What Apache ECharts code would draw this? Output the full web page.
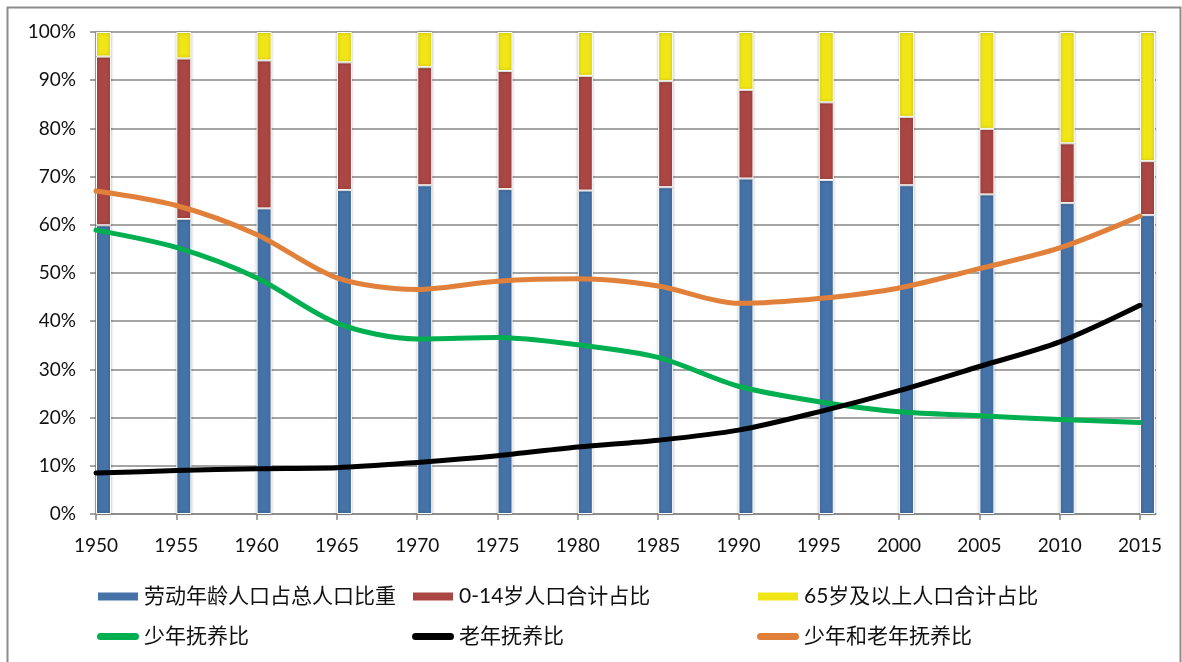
<!DOCTYPE html>
<html>
<head>
<meta charset="utf-8">
<script src="https://cdn.jsdelivr.net/npm/echarts@6/dist/echarts.min.js"></script>
<style>
  html, body { margin: 0; padding: 0; background: #fff; }
  #chart { width: 1182px; height: 662px; }
</style>
</head>
<body>
<div id="chart"></div>
<script>
// years on the x axis
const years = ["1950", "1955", "1960", "1965", "1970", "1975", "1980", "1985", "1990", "1995", "2000", "2005", "2010", "2015"];
// stacked shares (%)
const workShare = [59.9, 61.2, 63.4, 67.2, 68.2, 67.4, 67.1, 67.8, 69.6, 69.3, 68.2, 66.3, 64.5, 62.0];
const childShare = [35.0, 33.3, 30.7, 26.5, 24.5, 24.5, 23.8, 22.0, 18.4, 16.1, 14.2, 13.6, 12.4, 11.2];
const oldShare = [5.1, 5.5, 5.9, 6.3, 7.3, 8.1, 9.1, 10.2, 12.0, 14.6, 17.6, 20.1, 23.1, 26.8];
// dependency ratios (%)
const childRatio = [58.9, 55.3, 49.0, 39.6, 36.3, 36.6, 35.1, 32.5, 26.5, 23.3, 21.2, 20.4, 19.6, 19.0];
const oldRatio = [8.5, 9.0, 9.4, 9.6, 10.7, 12.1, 13.9, 15.3, 17.4, 21.2, 25.6, 30.6, 35.7, 43.3];
const totalRatio = [67.0, 64.0, 58.0, 49.0, 46.6, 48.3, 48.8, 47.3, 43.7, 44.7, 46.9, 50.9, 55.2, 61.8];

const names = ["劳动年龄人口占总人口比重", "0-14岁人口合计占比", "65岁及以上人口合计占比",
  "少年抚养比", "老年抚养比", "少年和老年抚养比"];

const axisGray = "#878787";
const lineIcon = "path://M3.5,0H38.5A3.5,3.5,0,0,1,38.5,7H3.5A3.5,3.5,0,0,1,3.5,0Z";

const barStyle = c => ({
  color: c,
  borderColor: "#fff",
  borderWidth: 1,
  shadowBlur: 3,
  shadowColor: "rgba(0,0,0,0.3)"
});

const lineSeries = (name, data, color) => ({
  name: name,
  type: "line",
  xAxisIndex: 1,
  yAxisIndex: 1,
  data: data,
  smooth: 0.3,
  showSymbol: false,
  symbol: "none",
  z: 5,
  itemStyle: { color: color },
  lineStyle: { color: color, width: 5, cap: "round", join: "round" }
});

const barSeries = (name, data, color) => ({
  name: name,
  type: "bar",
  stack: "share",
  xAxisIndex: 1,
  yAxisIndex: 1,
  barWidth: 15,
  barGap: "0%",
  data: data,
  itemStyle: barStyle(color)
});

const legendText = { fontSize: 21, color: "#111", fontFamily: "Lato, 'Noto Sans CJK SC', sans-serif" };
const legendCol = (left, data) => ({
  left: left,
  top: 581,
  orient: "vertical",
  itemGap: 19,
  itemWidth: 42,
  itemHeight: 10,
  textStyle: legendText,
  data: data
});

const chart = echarts.init(document.getElementById("chart"));
chart.setOption({
  animation: false,
  backgroundColor: "#fff",
  graphic: [{
    type: "rect",
    shape: { x: 7.5, y: 7.5, width: 1173, height: 700 },
    style: { fill: "none", stroke: "#8c8c8c", lineWidth: 2 },
    silent: true
  }],
  // grid 0: frame with gridlines over the full width, grid 1: the data
  grid: [
    { left: 96, top: 32, right: 26, bottom: 148 },
    { left: 96, top: 32, right: 42, bottom: 148 }
  ],
  legend: [
    legendCol(91, [{ name: names[0], icon: "rect" }, { name: names[3], icon: lineIcon }]),
    legendCol(406, [{ name: names[1], icon: "rect" }, { name: names[4], icon: lineIcon }]),
    legendCol(751, [{ name: names[2], icon: "rect" }, { name: names[5], icon: lineIcon }])
  ],
  xAxis: [
    {
      gridIndex: 0,
      type: "value",
      min: 0,
      max: 1,
      axisLine: { show: true, lineStyle: { color: axisGray, width: 1.5 } },
      axisTick: { show: false },
      axisLabel: { show: false },
      splitLine: { show: false }
    },
    {
      gridIndex: 1,
      type: "category",
      data: years,
      boundaryGap: false,
      axisLine: { show: false },
      axisTick: { show: true, length: 6, lineStyle: { color: axisGray, width: 1.5 } },
      axisLabel: {
        interval: 0,
        margin: 22,
        fontSize: 19,
        color: "#111",
        fontFamily: "Lato, sans-serif"
      },
      splitLine: { show: false }
    }
  ],
  yAxis: [
    {
      gridIndex: 0,
      type: "value",
      min: 0,
      max: 100,
      interval: 10,
      axisLine: { show: true, lineStyle: { color: axisGray, width: 1.5 } },
      axisTick: { show: true, length: 6, lineStyle: { color: axisGray, width: 1.5 } },
      splitLine: { lineStyle: { color: axisGray, width: 1.5 } },
      axisLabel: {
        formatter: "{value}%",
        margin: 20,
        fontSize: 19,
        color: "#111",
        fontFamily: "Lato, sans-serif"
      }
    },
    {
      gridIndex: 1,
      type: "value",
      min: 0,
      max: 100,
      interval: 10,
      show: false
    }
  ],
  series: [
    // empty group so the visible stack sits just right of each tick
    { name: "pad", type: "bar", stack: "pad", xAxisIndex: 1, yAxisIndex: 1, barWidth: 15, barGap: "0%", data: years.map(() => 0), itemStyle: { color: "transparent" }, silent: true },
    barSeries(names[0], workShare, "#4572A7"),
    barSeries(names[1], childShare, "#AA4643"),
    barSeries(names[2], oldShare, "#F0E516"),
    lineSeries(names[3], childRatio, "#00B050"),
    lineSeries(names[4], oldRatio, "#000000"),
    lineSeries(names[5], totalRatio, "#E0803A")
  ]
});
</script>
</body>
</html>
